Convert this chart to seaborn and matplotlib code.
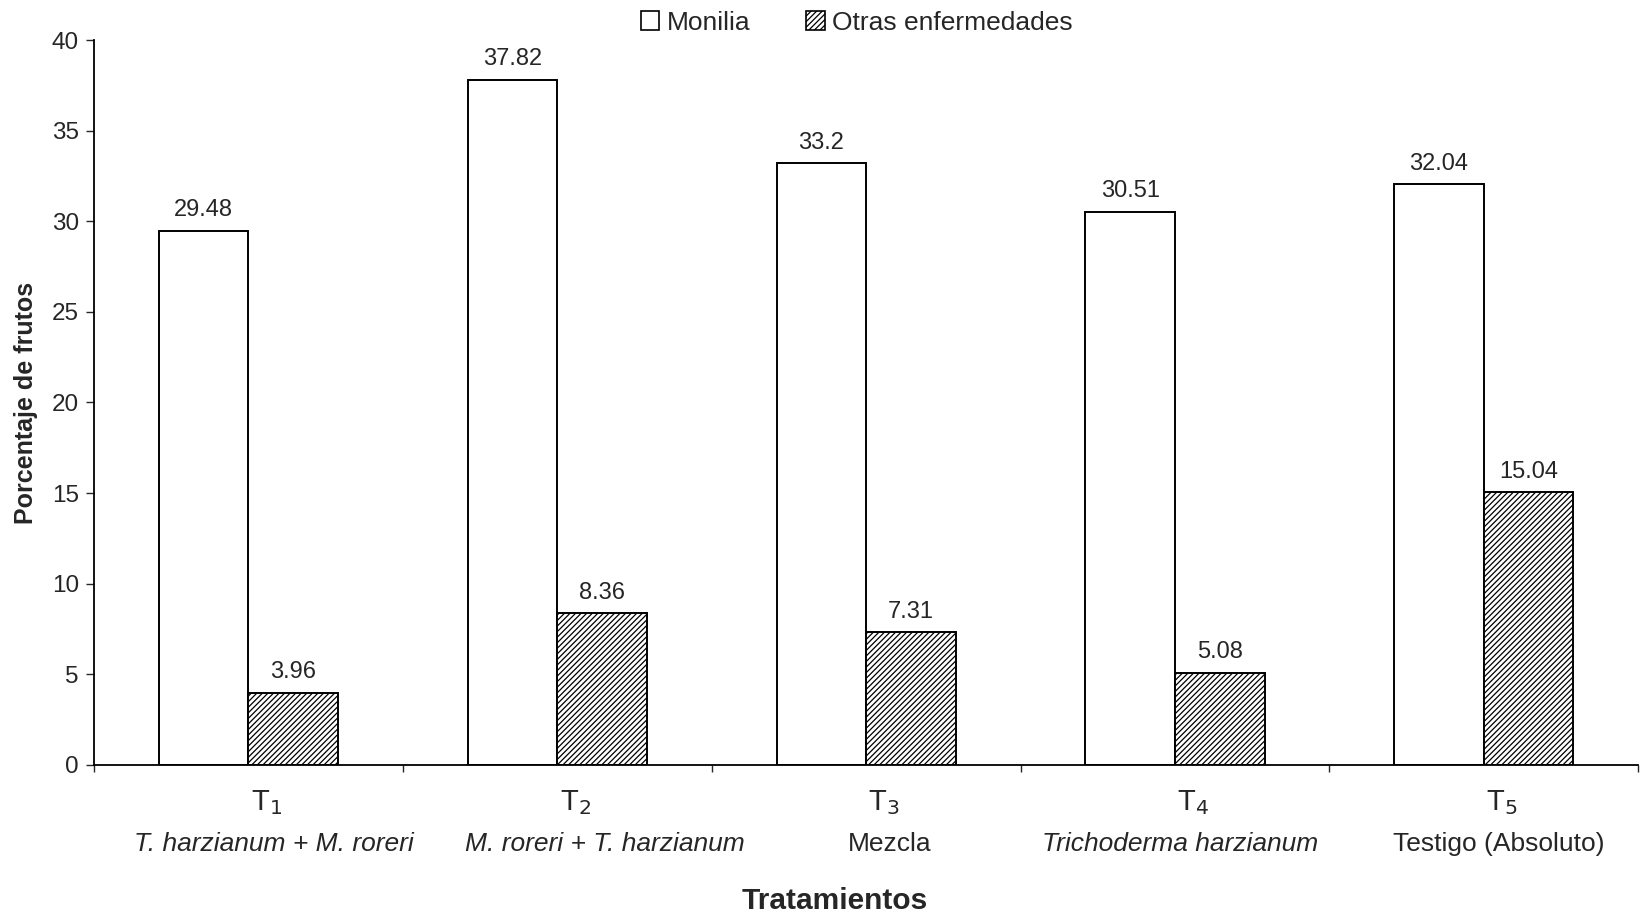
import matplotlib
matplotlib.use("Agg")
import matplotlib.pyplot as plt
import seaborn as sns
import pandas as pd
from matplotlib.patches import Patch

# Data
tratamientos = ["T$_1$", "T$_2$", "T$_3$", "T$_4$", "T$_5$"]
descripciones = ["T. harzianum + M. roreri", "M. roreri + T. harzianum",
                 "Mezcla", "Trichoderma harzianum", "Testigo (Absoluto)"]
desc_italica = [True, True, False, True, False]
monilia = [29.48, 37.82, 33.2, 30.51, 32.04]
otras = [3.96, 8.36, 7.31, 5.08, 15.04]
series = ["Monilia", "Otras enfermedades"]

# horizontal nudges (points) of the category captions
desc_dx = [18, 34, 17, 4, 11]
trat_dx = 13

sns.set_theme(style="white")
plt.rcParams["font.family"] = ["Liberation Sans", "DejaVu Sans"]
plt.rcParams["hatch.linewidth"] = 0.9

df = pd.DataFrame({
    "trat": tratamientos * 2,
    "pct": monilia + otras,
    "serie": [series[0]] * 5 + [series[1]] * 5,
})

fig = plt.figure(figsize=(16.41, 9.16), dpi=100)
ax = fig.add_axes([0.0573, 0.1649, 0.941, 0.7914])

sns.barplot(data=df, x="trat", y="pct", hue="serie", hue_order=series,
            palette=["white", "white"], edgecolor="black", linewidth=1.4,
            width=0.58, gap=0, ax=ax, legend=False)

for bar in ax.containers[1]:
    bar.set_hatch("//////")

for cont, vals in zip(ax.containers, [monilia, otras]):
    ax.bar_label(cont, labels=[f"{v:g}" for v in vals], padding=7, fontsize=17)

ax.set_ylim(0, 40)
ax.set_xlim(-0.5, 4.5)
ax.set_yticks(range(0, 41, 5))
ax.tick_params(axis="y", labelsize=17.5, length=6, width=1, direction="out", left=True, pad=5)

# category ticks: boundaries get the tick marks, captions are drawn as text
ax.set_xticks(range(5))
ax.set_xticklabels([])
ax.set_xticks([i - 0.5 for i in range(6)], minor=True)
ax.tick_params(axis="x", which="major", length=0)
ax.tick_params(axis="x", which="minor", length=5, width=1, direction="out", bottom=True)

for i, (t, txt, it, dx) in enumerate(zip(tratamientos, descripciones, desc_italica, desc_dx)):
    ax.annotate(t, xy=(i, 0), xycoords=("data", "axes fraction"),
                xytext=(trat_dx, -27), textcoords="offset points",
                ha="center", va="center", fontsize=21)
    ax.annotate(txt, xy=(i, 0), xycoords=("data", "axes fraction"),
                xytext=(dx, -57), textcoords="offset points",
                ha="center", va="center", fontsize=19,
                style="italic" if it else "normal")

ax.set_xlabel("")
ax.annotate("Tratamientos", xy=(0.48, 0), xycoords="axes fraction",
            xytext=(0, -98), textcoords="offset points",
            ha="center", va="center", fontsize=21.5, fontweight="bold")
ax.set_ylabel("Porcentaje de frutos", fontsize=18, fontweight="bold", labelpad=10)

for s in ["top", "right"]:
    ax.spines[s].set_visible(False)
for s in ["left", "bottom"]:
    ax.spines[s].set_color("black")
    ax.spines[s].set_linewidth(1.3)

handles = [Patch(facecolor="white", edgecolor="black", linewidth=1.2),
           Patch(facecolor="white", edgecolor="black", hatch="//////", linewidth=1.2)]
ax.legend(handles, series, loc="lower center", bbox_to_anchor=(0.494, 0.993),
          ncol=2, frameon=False, fontsize=19, handlelength=0.7, handleheight=0.7,
          handletextpad=0.3, columnspacing=2.1, borderaxespad=0)

fig.savefig("out.png", dpi=100, facecolor="white")
